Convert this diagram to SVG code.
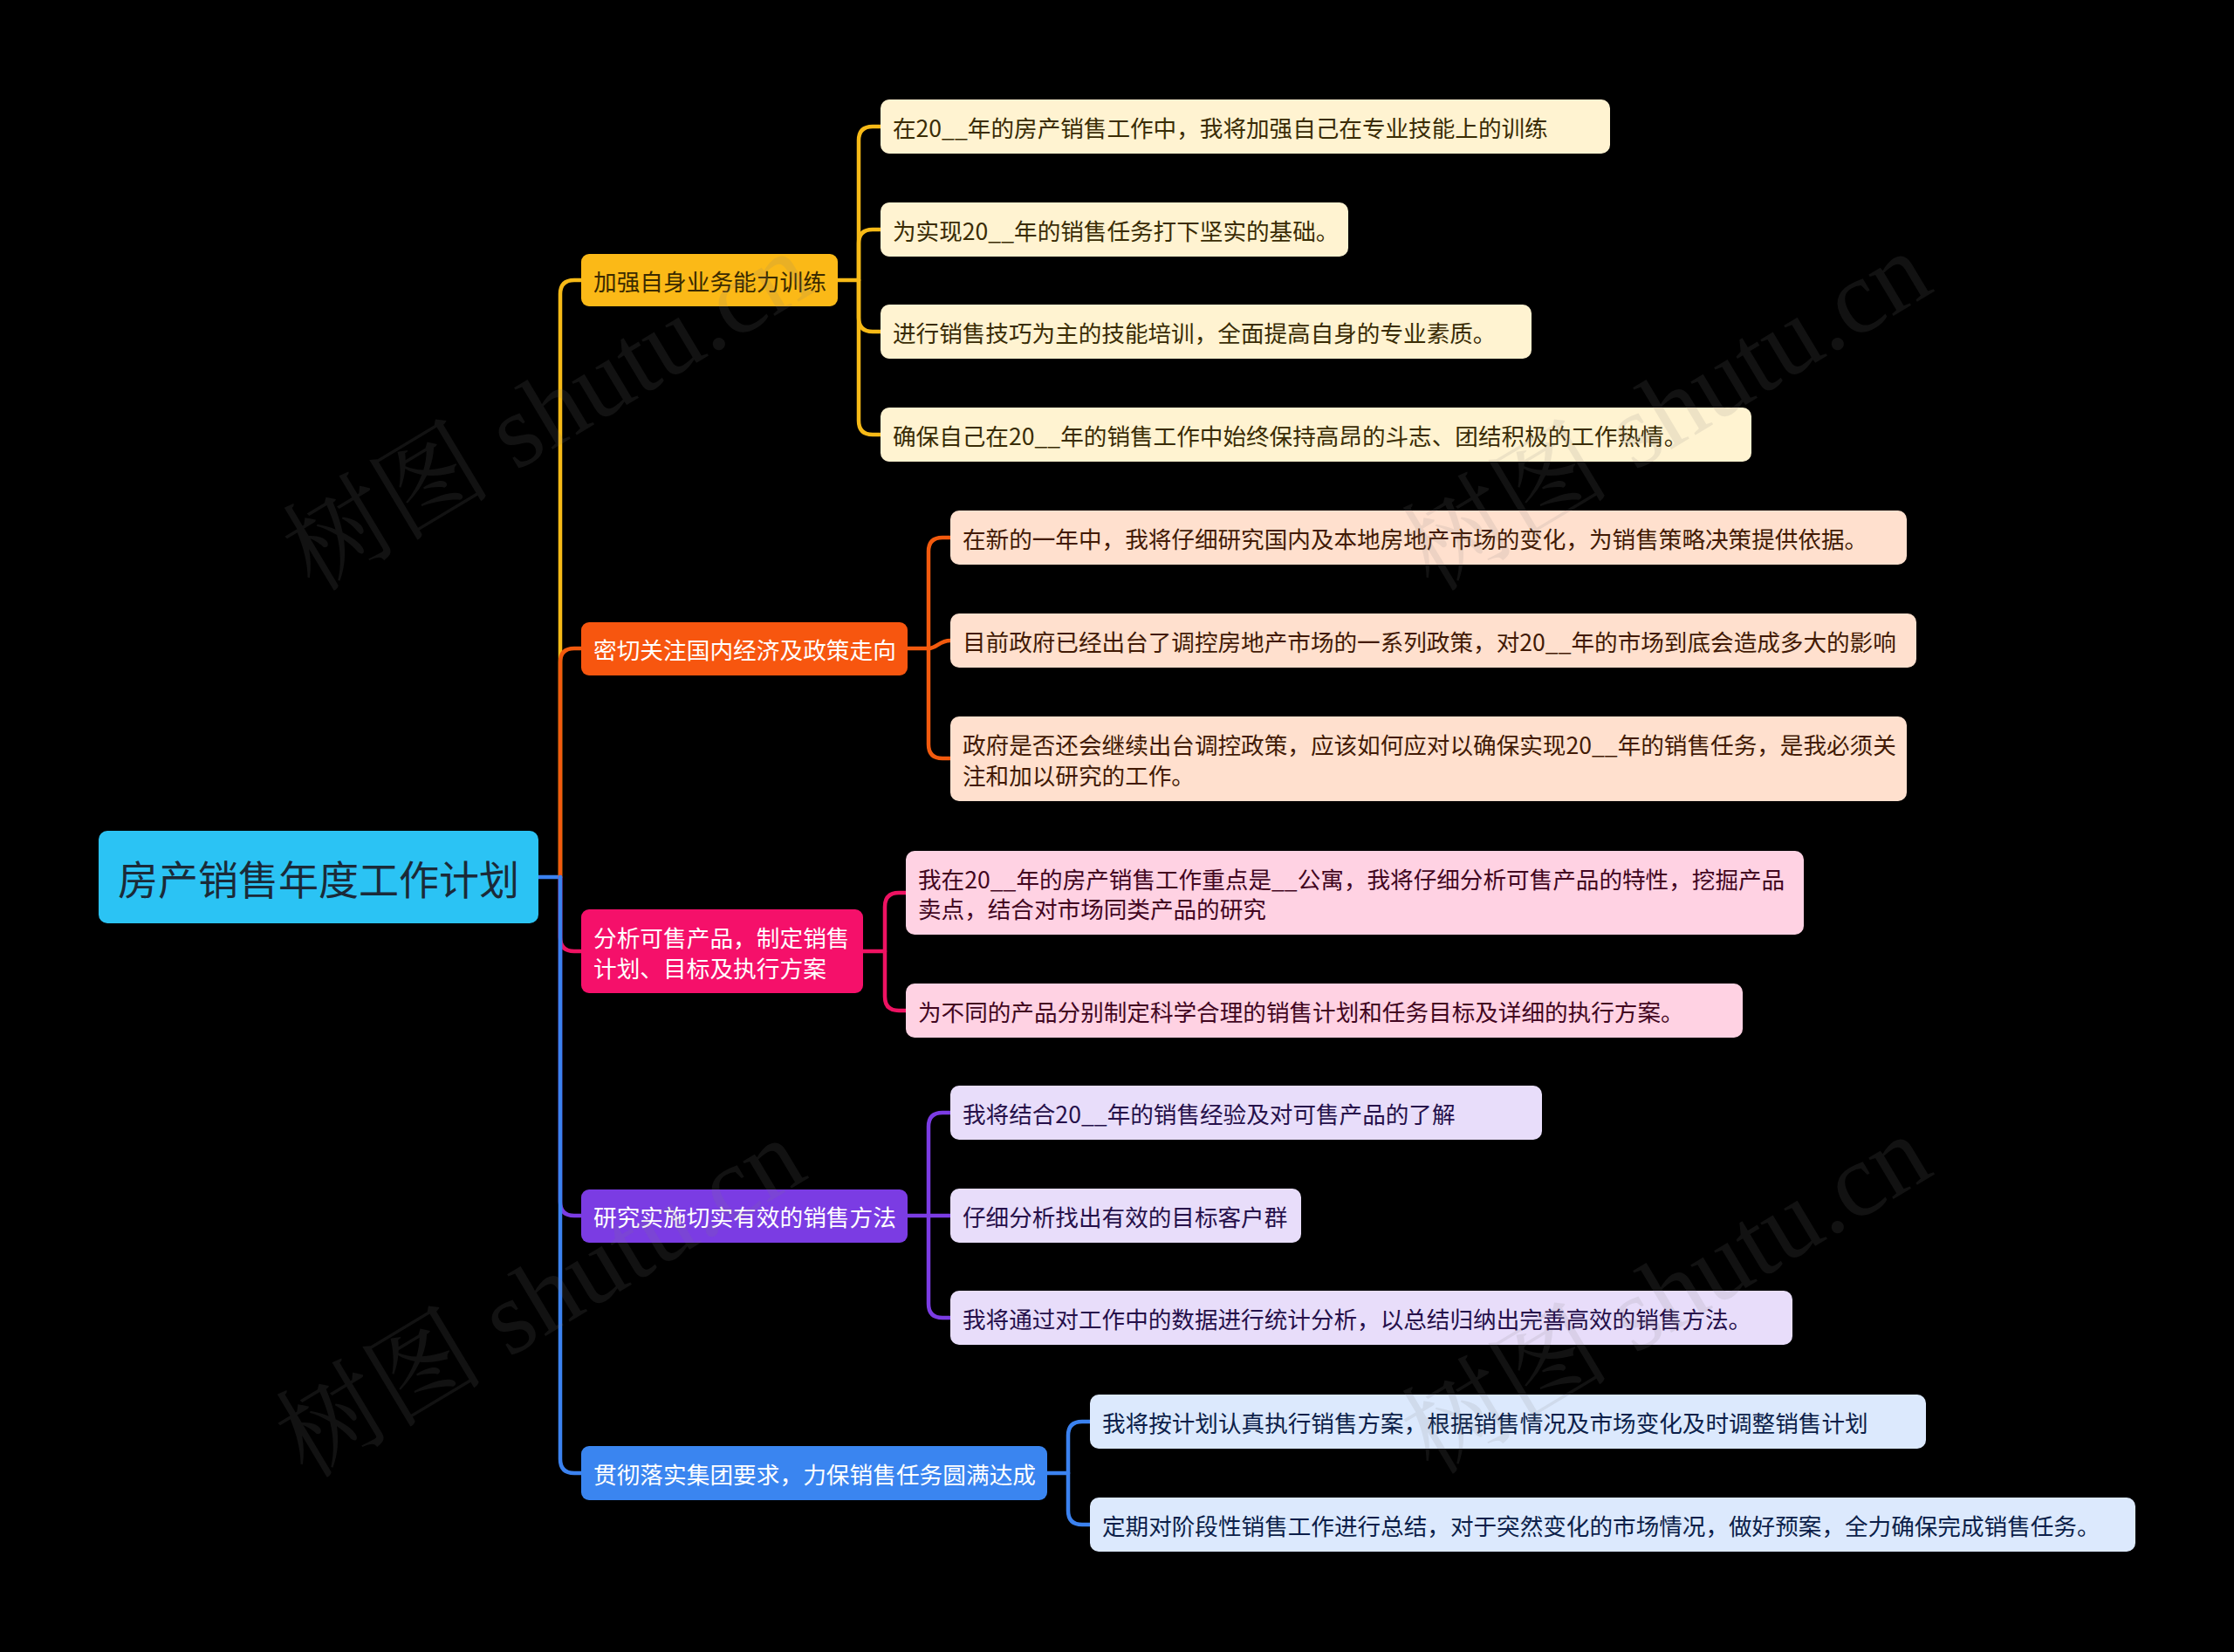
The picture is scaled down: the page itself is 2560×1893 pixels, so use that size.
<svg xmlns="http://www.w3.org/2000/svg" width="2560" height="1893" viewBox="0 0 2560 1893">
<style>
text{font-family:"Noto Sans CJK SC","Noto Sans",sans-serif;dominant-baseline:central}
.l1{font-size:26.7px}
.lf{font-size:26.6px}
.c path{fill:none;stroke-width:4.5;stroke-linecap:round}
.wm{font-family:"Liberation Serif","Noto Serif CJK SC","Noto Sans CJK SC",serif;font-size:120px;fill:#808080;fill-opacity:0.14;dominant-baseline:auto}
</style>
<rect width="2560" height="1893" fill="#000"/>
<g class="c" id="connectors">
<path d="M617,1005 H642" stroke="#3B82F0"/>
<path d="M642,1005 V337 Q642,321 658,321 H666" stroke="#F7BA17"/>
<path d="M642,1005 V759 Q642,743 658,743 H666" stroke="#F25A0E"/>
<path d="M642,1005 V1074 Q642,1090 658,1090 H666" stroke="#EE1262"/>
<path d="M642,1005 V1377 Q642,1393 658,1393 H666" stroke="#7B3CE3"/>
<path d="M642,1005 V1672 Q642,1688 658,1688 H666" stroke="#3B82F0"/>
<g stroke="#F7BA17">
<path d="M960,321 H984"/>
<path d="M984,321 V161 Q984,145 1000,145 H1009"/>
<path d="M984,321 V279 Q984,263 1000,263 H1009"/>
<path d="M984,321 V364 Q984,380 1000,380 H1009"/>
<path d="M984,321 V482 Q984,498 1000,498 H1009"/>
</g>
<g stroke="#F25A0E">
<path d="M1040,743 H1064"/>
<path d="M1064,743 V632 Q1064,616 1080,616 H1089"/>
<path d="M1064,743 C1074,743 1076,734 1089,734"/>
<path d="M1064,743 V853 Q1064,869 1080,869 H1089"/>
</g>
<g stroke="#EE1262">
<path d="M989,1090 H1014"/>
<path d="M1014,1090 V1039 Q1014,1023 1030,1023 H1038"/>
<path d="M1014,1090 V1142 Q1014,1158 1030,1158 H1038"/>
</g>
<g stroke="#7B3CE3">
<path d="M1040,1393 H1089"/>
<path d="M1064,1393 V1291 Q1064,1275 1080,1275 H1089"/>
<path d="M1064,1393 V1494 Q1064,1510 1080,1510 H1089"/>
</g>
<g stroke="#3B82F0">
<path d="M1200,1688 H1224"/>
<path d="M1224,1688 V1645 Q1224,1629 1240,1629 H1249"/>
<path d="M1224,1688 V1731 Q1224,1747 1240,1747 H1249"/>
</g>
</g>
<g id="root">
<rect x="113" y="952" width="504" height="106" rx="10" fill="#2BC3F4"/>
<text x="365" y="1005" font-size="46" text-anchor="middle" fill="#1B2A38">房产销售年度工作计划</text>
</g>
<g id="n1"><rect x="666" y="291" width="294" height="60" rx="9" fill="#FBB917"/><text class="l1" x="680" y="321" fill="#3A2A00">加强自身业务能力训练</text></g>
<g id="n2"><rect x="666" y="713" width="374" height="61" rx="9" fill="#F7560F"/><text class="l1" x="680" y="743" fill="#fff">密切关注国内经济及政策走向</text></g>
<g id="n3"><rect x="666" y="1042" width="323" height="96" rx="9" fill="#F5106A"/><text class="l1" x="680" y="1073" fill="#fff">分析可售产品，制定销售</text><text class="l1" x="680" y="1108" fill="#fff">计划、目标及执行方案</text></g>
<g id="n4"><rect x="666" y="1363" width="374" height="61" rx="9" fill="#7B3CE3"/><text class="l1" x="680" y="1393" fill="#fff">研究实施切实有效的销售方法</text></g>
<g id="n5"><rect x="666" y="1657" width="534" height="62" rx="9" fill="#3A85F0"/><text class="l1" x="680" y="1688" fill="#fff">贯彻落实集团要求，力保销售任务圆满达成</text></g>

<g id="l1a"><rect x="1009" y="114" width="836" height="62" rx="10" fill="#FFF3D1"/><text class="lf" x="1023" y="145" fill="#3A2C05">在20__年的房产销售工作中，我将加强自己在专业技能上的训练</text></g>
<g id="l1b"><rect x="1009" y="232" width="536" height="62" rx="10" fill="#FFF3D1"/><text class="lf" x="1023" y="263" fill="#3A2C05">为实现20__年的销售任务打下坚实的基础。</text></g>
<g id="l1c"><rect x="1009" y="349" width="746" height="62" rx="10" fill="#FFF3D1"/><text class="lf" x="1023" y="380" fill="#3A2C05">进行销售技巧为主的技能培训，全面提高自身的专业素质。</text></g>
<g id="l1d"><rect x="1009" y="467" width="998" height="62" rx="10" fill="#FFF3D1"/><text class="lf" x="1023" y="498" fill="#3A2C05">确保自己在20__年的销售工作中始终保持高昂的斗志、团结积极的工作热情。</text></g>

<g id="l2a"><rect x="1089" y="585" width="1096" height="62" rx="10" fill="#FFE0CE"/><text class="lf" x="1103" y="616" fill="#421A05">在新的一年中，我将仔细研究国内及本地房地产市场的变化，为销售策略决策提供依据。</text></g>
<g id="l2b"><rect x="1089" y="703" width="1107" height="62" rx="10" fill="#FFE0CE"/><text class="lf" x="1103" y="734" fill="#421A05">目前政府已经出台了调控房地产市场的一系列政策，对20__年的市场到底会造成多大的影响</text></g>
<g id="l2c"><rect x="1089" y="821" width="1096" height="97" rx="10" fill="#FFE0CE"/><text class="lf" x="1103" y="852" fill="#421A05">政府是否还会继续出台调控政策，应该如何应对以确保实现20__年的销售任务，是我必须关</text><text class="lf" x="1103" y="887" fill="#421A05">注和加以研究的工作。</text></g>

<g id="l3a"><rect x="1038" y="975" width="1029" height="96" rx="10" fill="#FFD2E3"/><text class="lf" x="1052" y="1006" fill="#42061F">我在20__年的房产销售工作重点是__公寓，我将仔细分析可售产品的特性，挖掘产品</text><text class="lf" x="1052" y="1040" fill="#42061F">卖点，结合对市场同类产品的研究</text></g>
<g id="l3b"><rect x="1038" y="1127" width="959" height="62" rx="10" fill="#FFD2E3"/><text class="lf" x="1052" y="1158" fill="#42061F">为不同的产品分别制定科学合理的销售计划和任务目标及详细的执行方案。</text></g>

<g id="l4a"><rect x="1089" y="1244" width="678" height="62" rx="10" fill="#E8DDFA"/><text class="lf" x="1103" y="1275" fill="#26104A">我将结合20__年的销售经验及对可售产品的了解</text></g>
<g id="l4b"><rect x="1089" y="1362" width="402" height="62" rx="10" fill="#E8DDFA"/><text class="lf" x="1103" y="1393" fill="#26104A">仔细分析找出有效的目标客户群</text></g>
<g id="l4c"><rect x="1089" y="1479" width="965" height="62" rx="10" fill="#E8DDFA"/><text class="lf" x="1103" y="1510" fill="#26104A">我将通过对工作中的数据进行统计分析，以总结归纳出完善高效的销售方法。</text></g>

<g id="l5a"><rect x="1249" y="1598" width="958" height="62" rx="10" fill="#DCE9FD"/><text class="lf" x="1263" y="1629" fill="#0C1F4A">我将按计划认真执行销售方案，根据销售情况及市场变化及时调整销售计划</text></g>
<g id="l5b"><rect x="1249" y="1716" width="1198" height="62" rx="10" fill="#DCE9FD"/><text class="lf" x="1263" y="1747" fill="#0C1F4A">定期对阶段性销售工作进行总结，对于突然变化的市场情况，做好预案，全力确保完成销售任务。</text></g>

<g id="watermark">
<text class="wm" transform="translate(648,506) rotate(-31)" text-anchor="middle">树图 shutu.cn</text>
<text class="wm" transform="translate(1930,506) rotate(-31)" text-anchor="middle">树图 shutu.cn</text>
<text class="wm" transform="translate(640,1522) rotate(-31)" text-anchor="middle">树图 shutu.cn</text>
<text class="wm" transform="translate(1930,1518) rotate(-31)" text-anchor="middle">树图 shutu.cn</text>
</g>
</svg>
